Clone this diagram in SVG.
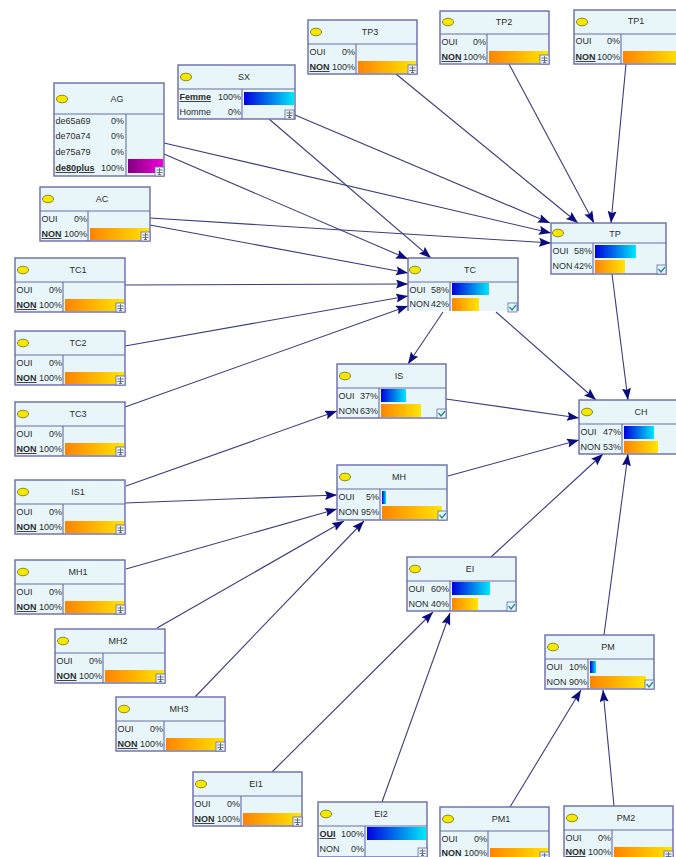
<svg xmlns="http://www.w3.org/2000/svg" width="676" height="857" viewBox="0 0 676 857">
<style>
text{font-family:"Liberation Sans",Arial,sans-serif;font-size:9px;fill:#2c2c2c}
.t{text-anchor:middle}
.r{text-anchor:end}
.b{font-weight:700;text-decoration:underline}
.box{fill:#e8f6f9;stroke:#6a6ca8;stroke-width:1.4}
.nb{fill:#e8f6f9}
.ln{stroke:#6a6ca8;stroke-width:1.1;fill:none}
.led{fill:#f5e800;stroke:#77700a;stroke-width:.8}
.ic{fill:#e8f6f9;stroke:#6a6ca8;stroke-width:.8}
.ck{fill:none;stroke:#1b8a98;stroke-width:1.3}
#edges line{stroke:#3c3c80;stroke-width:1.1;marker-end:url(#a)}
</style>
<defs>
<linearGradient id="bl"><stop offset="0" stop-color="#0000e0"/><stop offset="1" stop-color="#00e8f8"/></linearGradient>
<linearGradient id="or"><stop offset="0" stop-color="#ff8400"/><stop offset="1" stop-color="#ffe600"/></linearGradient>
<linearGradient id="pu"><stop offset="0" stop-color="#800080"/><stop offset="1" stop-color="#f000d8"/></linearGradient>
<marker id="a" markerUnits="userSpaceOnUse" markerWidth="13" markerHeight="10" refX="12" refY="4.5" orient="auto"><path d="M0 0L12 4.5L0 9L2 4.5Z" fill="#0b0b80"/></marker>
<g id="pl"><rect class="ic" width="9" height="9"/><path d="M4.5 1V8M1.5 3H7.5M1.5 5.5H7.5M3 7.5H6" stroke="#556" stroke-width=".8"/></g>
<g id="ch"><rect class="ic" width="9" height="9"/><path class="ck" d="M1.5 4L4 7L8 2"/></g>
<ellipse id="e" class="led" rx="5.6" ry="3.8"/>
</defs>
<g id="edges">
<line x1="295" y1="115" x2="550" y2="223"/>
<line x1="269" y1="119" x2="431" y2="258"/>
<line x1="164" y1="143" x2="551" y2="233"/>
<line x1="164" y1="154" x2="408" y2="259"/>
<line x1="150" y1="218" x2="551" y2="243"/>
<line x1="150" y1="225" x2="408" y2="273"/>
<line x1="125" y1="285" x2="408" y2="284"/>
<line x1="125" y1="346" x2="408" y2="296"/>
<line x1="125" y1="407" x2="408" y2="306"/>
<line x1="396" y1="74" x2="578" y2="223"/>
<line x1="509" y1="64" x2="594" y2="223"/>
<line x1="626" y1="64" x2="611" y2="223"/>
<line x1="443" y1="312" x2="408" y2="364"/>
<line x1="496" y1="312" x2="596" y2="400"/>
<line x1="612" y1="274" x2="628" y2="400"/>
<line x1="446" y1="399" x2="579" y2="418"/>
<line x1="448" y1="476" x2="579" y2="440"/>
<line x1="491" y1="557" x2="603" y2="454"/>
<line x1="604" y1="635" x2="628" y2="454"/>
<line x1="126" y1="486" x2="337" y2="411"/>
<line x1="125" y1="503" x2="337" y2="495"/>
<line x1="126" y1="569" x2="337" y2="509"/>
<line x1="157" y1="628" x2="344" y2="521"/>
<line x1="195" y1="697" x2="364" y2="521"/>
<line x1="272" y1="772" x2="433" y2="612"/>
<line x1="382" y1="802" x2="450" y2="613"/>
<line x1="510" y1="807" x2="581" y2="690"/>
<line x1="614" y1="806" x2="603" y2="690"/>
</g>
<g id="AG" transform="translate(54 83)"><rect class="box" width="110" height="93"/><path class="ln" d="M0 31H110M72 31V93"/><use href="#e" x="8" y="16"/><text class="t" x="63" y="19">AG</text><text x="1.5" y="41">de65a69</text><text class="r" x="70" y="41">0%</text><text x="1.5" y="56">de70a74</text><text class="r" x="70" y="56">0%</text><text x="1.5" y="72">de75a79</text><text class="r" x="70" y="72">0%</text><text class="b" x="1.5" y="88">de80plus</text><text class="r" x="70" y="88">100%</text><rect x="74" y="76" width="35" height="14" fill="url(#pu)"/><use href="#pl" x="101" y="84"/></g>
<g id="SX" transform="translate(178 65)"><rect class="box" width="117" height="54"/><path class="ln" d="M0 24H117M64 24V54"/><use href="#e" x="8" y="12"/><text class="t" x="66" y="15">SX</text><text class="b" x="1.5" y="35">Femme</text><text class="r" x="63" y="35">100%</text><text x="1.5" y="50">Homme</text><text class="r" x="63" y="50">0%</text><rect x="66" y="27" width="50" height="13" fill="url(#bl)"/><use href="#pl" x="107" y="45"/></g>
<g id="AC" transform="translate(40 187)"><rect class="box" width="110" height="54"/><path class="ln" d="M0 24H110M48 24V54"/><use href="#e" x="8" y="12"/><text class="t" x="62" y="15">AC</text><text x="1.5" y="35">OUI</text><text class="r" x="47" y="35">0%</text><text class="b" x="1.5" y="50">NON</text><text class="r" x="47" y="50">100%</text><rect x="50" y="41" width="59" height="12" fill="url(#or)"/><use href="#pl" x="101" y="45"/></g>
<g id="TP3" transform="translate(308 20)"><rect class="box" width="109" height="54"/><path class="ln" d="M0 24H109M48 24V54"/><use href="#e" x="8" y="12"/><text class="t" x="62" y="15">TP3</text><text x="1.5" y="35">OUI</text><text class="r" x="47" y="35">0%</text><text class="b" x="1.5" y="50">NON</text><text class="r" x="47" y="50">100%</text><rect x="50" y="41" width="58" height="12" fill="url(#or)"/><use href="#pl" x="100" y="45"/></g>
<g id="TP2" transform="translate(440 11)"><rect class="box" width="109" height="53"/><path class="ln" d="M0 23H109M47 23V53"/><use href="#e" x="8" y="11"/><text class="t" x="64" y="14">TP2</text><text x="1.5" y="34">OUI</text><text class="r" x="46" y="34">0%</text><text class="b" x="1.5" y="49">NON</text><text class="r" x="46" y="49">100%</text><rect x="49" y="40" width="59" height="12" fill="url(#or)"/><use href="#pl" x="100" y="44"/></g>
<g id="TP1" transform="translate(574 10)"><rect class="box" width="109" height="54"/><path class="ln" d="M0 24H109M47 24V54"/><use href="#e" x="8" y="12"/><text class="t" x="62" y="14">TP1</text><text x="1.5" y="34">OUI</text><text class="r" x="46" y="34">0%</text><text class="b" x="1.5" y="50">NON</text><text class="r" x="46" y="50">100%</text><rect x="49" y="41" width="59" height="12" fill="url(#or)"/></g>
<g id="TP" transform="translate(551 223)"><rect class="box" width="115" height="51"/><path class="ln" d="M0 20H115M42 20V51"/><use href="#e" x="7" y="10"/><text class="t" x="64" y="14">TP</text><text x="1.5" y="31">OUI</text><text class="r" x="41" y="31">58%</text><text x="1.5" y="46">NON</text><text class="r" x="41" y="46">42%</text><rect x="44" y="22" width="41" height="13" fill="url(#bl)"/><rect x="44" y="37" width="30" height="13" fill="url(#or)"/><use href="#ch" x="106" y="42"/></g>
<g id="TC" transform="translate(408 258)"><rect class="nb" width="110" height="53"/><path class="box" style="fill:none" d="M0 53V0H110V53"/><path class="ln" d="M0 24H110M42 24V53"/><use href="#e" x="7" y="12"/><text class="t" x="62" y="15">TC</text><text x="1.5" y="35">OUI</text><text class="r" x="41" y="35">58%</text><text x="1.5" y="49">NON</text><text class="r" x="41" y="49">42%</text><rect x="44" y="25" width="37" height="12" fill="url(#bl)"/><rect x="44" y="40" width="27" height="13" fill="url(#or)"/><use href="#ch" x="100" y="45"/></g>
<g id="TC1" transform="translate(15 258)"><rect class="box" width="110" height="54"/><path class="ln" d="M0 24H110M48 24V54"/><use href="#e" x="8" y="12"/><text class="t" x="63" y="15">TC1</text><text x="1.5" y="35">OUI</text><text class="r" x="47" y="35">0%</text><text class="b" x="1.5" y="50">NON</text><text class="r" x="47" y="50">100%</text><rect x="50" y="41" width="59" height="12" fill="url(#or)"/><use href="#pl" x="101" y="45"/></g>
<g id="TC2" transform="translate(15 331)"><rect class="box" width="110" height="54"/><path class="ln" d="M0 24H110M48 24V54"/><use href="#e" x="8" y="12"/><text class="t" x="63" y="15">TC2</text><text x="1.5" y="35">OUI</text><text class="r" x="47" y="35">0%</text><text class="b" x="1.5" y="50">NON</text><text class="r" x="47" y="50">100%</text><rect x="50" y="41" width="59" height="12" fill="url(#or)"/><use href="#pl" x="101" y="45"/></g>
<g id="TC3" transform="translate(15 402)"><rect class="box" width="110" height="54"/><path class="ln" d="M0 24H110M48 24V54"/><use href="#e" x="8" y="12"/><text class="t" x="63" y="15">TC3</text><text x="1.5" y="35">OUI</text><text class="r" x="47" y="35">0%</text><text class="b" x="1.5" y="50">NON</text><text class="r" x="47" y="50">100%</text><rect x="50" y="41" width="59" height="12" fill="url(#or)"/><use href="#pl" x="101" y="45"/></g>
<g id="IS1" transform="translate(15 480)"><rect class="box" width="110" height="54"/><path class="ln" d="M0 24H110M48 24V54"/><use href="#e" x="8" y="12"/><text class="t" x="63" y="15">IS1</text><text x="1.5" y="35">OUI</text><text class="r" x="47" y="35">0%</text><text class="b" x="1.5" y="50">NON</text><text class="r" x="47" y="50">100%</text><rect x="50" y="41" width="59" height="12" fill="url(#or)"/><use href="#pl" x="101" y="45"/></g>
<g id="MH1" transform="translate(15 560)"><rect class="box" width="110" height="54"/><path class="ln" d="M0 24H110M48 24V54"/><use href="#e" x="8" y="12"/><text class="t" x="63" y="15">MH1</text><text x="1.5" y="35">OUI</text><text class="r" x="47" y="35">0%</text><text class="b" x="1.5" y="50">NON</text><text class="r" x="47" y="50">100%</text><rect x="50" y="41" width="59" height="12" fill="url(#or)"/><use href="#pl" x="101" y="45"/></g>
<g id="MH2" transform="translate(55 629)"><rect class="box" width="110" height="54"/><path class="ln" d="M0 24H110M48 24V54"/><use href="#e" x="8" y="12"/><text class="t" x="63" y="15">MH2</text><text x="1.5" y="35">OUI</text><text class="r" x="47" y="35">0%</text><text class="b" x="1.5" y="50">NON</text><text class="r" x="47" y="50">100%</text><rect x="50" y="41" width="59" height="12" fill="url(#or)"/><use href="#pl" x="101" y="45"/></g>
<g id="MH3" transform="translate(116 697)"><rect class="box" width="109" height="54"/><path class="ln" d="M0 24H109M48 24V54"/><use href="#e" x="8" y="12"/><text class="t" x="63" y="15">MH3</text><text x="1.5" y="35">OUI</text><text class="r" x="47" y="35">0%</text><text class="b" x="1.5" y="50">NON</text><text class="r" x="47" y="50">100%</text><rect x="50" y="41" width="58" height="12" fill="url(#or)"/><use href="#pl" x="100" y="45"/></g>
<g id="EI1" transform="translate(193 772)"><rect class="box" width="109" height="54"/><path class="ln" d="M0 24H109M48 24V54"/><use href="#e" x="8" y="12"/><text class="t" x="63" y="15">EI1</text><text x="1.5" y="35">OUI</text><text class="r" x="47" y="35">0%</text><text class="b" x="1.5" y="50">NON</text><text class="r" x="47" y="50">100%</text><rect x="50" y="41" width="58" height="12" fill="url(#or)"/><use href="#pl" x="100" y="45"/></g>
<g id="EI2" transform="translate(318 802)"><rect class="box" width="109" height="55"/><path class="ln" d="M0 24H109M47 24V55"/><use href="#e" x="8" y="12"/><text class="t" x="63" y="15">EI2</text><text class="b" x="1.5" y="35">OUI</text><text class="r" x="46" y="35">100%</text><text x="1.5" y="50">NON</text><text class="r" x="46" y="50">0%</text><rect x="49" y="25" width="59" height="13" fill="url(#bl)"/><use href="#pl" x="100" y="46"/></g>
<g id="PM1" transform="translate(440 807)"><rect class="box" width="109" height="54"/><path class="ln" d="M0 24H109M48 24V54"/><use href="#e" x="8" y="12"/><text class="t" x="61" y="15">PM1</text><text x="1.5" y="35">OUI</text><text class="r" x="47" y="35">0%</text><text class="b" x="1.5" y="49">NON</text><text class="r" x="47" y="49">100%</text><rect x="50" y="41" width="58" height="12" fill="url(#or)"/><use href="#pl" x="100" y="45"/></g>
<g id="PM2" transform="translate(564 806)"><rect class="box" width="109" height="54"/><path class="ln" d="M0 24H109M48 24V54"/><use href="#e" x="8" y="12"/><text class="t" x="62" y="15">PM2</text><text x="1.5" y="35">OUI</text><text class="r" x="47" y="35">0%</text><text class="b" x="1.5" y="49">NON</text><text class="r" x="47" y="49">100%</text><rect x="50" y="41" width="58" height="12" fill="url(#or)"/><use href="#pl" x="100" y="45"/></g>
<g id="IS" transform="translate(337 364)"><rect class="box" width="109" height="54"/><path class="ln" d="M0 24H109M42 24V54"/><use href="#e" x="8" y="12"/><text class="t" x="62" y="15">IS</text><text x="1.5" y="35">OUI</text><text class="r" x="41" y="35">37%</text><text x="1.5" y="50">NON</text><text class="r" x="41" y="50">63%</text><rect x="44" y="25" width="25" height="13" fill="url(#bl)"/><rect x="44" y="40" width="40" height="13" fill="url(#or)"/><use href="#ch" x="100" y="45"/></g>
<g id="MH" transform="translate(337 465)"><rect class="box" width="110" height="55"/><path class="ln" d="M0 24H110M43 24V55"/><use href="#e" x="8" y="12"/><text class="t" x="62" y="15">MH</text><text x="1.5" y="35">OUI</text><text class="r" x="42" y="35">5%</text><text x="1.5" y="50">NON</text><text class="r" x="42" y="50">95%</text><rect x="45" y="26" width="4" height="13" fill="url(#bl)"/><rect x="45" y="41" width="60" height="13" fill="url(#or)"/><use href="#ch" x="101" y="46"/></g>
<g id="EI" transform="translate(407 557)"><rect class="box" width="109" height="54"/><path class="ln" d="M0 24H109M43 24V54"/><use href="#e" x="8" y="12"/><text class="t" x="63" y="15">EI</text><text x="1.5" y="35">OUI</text><text class="r" x="42" y="35">60%</text><text x="1.5" y="50">NON</text><text class="r" x="42" y="50">40%</text><rect x="45" y="25" width="38" height="13" fill="url(#bl)"/><rect x="45" y="41" width="26" height="12" fill="url(#or)"/><use href="#ch" x="100" y="45"/></g>
<g id="PM" transform="translate(545 635)"><rect class="box" width="109" height="54"/><path class="ln" d="M0 24H109M43 24V54"/><use href="#e" x="8" y="12"/><text class="t" x="63" y="15">PM</text><text x="1.5" y="35">OUI</text><text class="r" x="42" y="35">10%</text><text x="1.5" y="50">NON</text><text class="r" x="42" y="50">90%</text><rect x="45" y="26" width="6" height="12" fill="url(#bl)"/><rect x="45" y="41" width="56" height="12" fill="url(#or)"/><use href="#ch" x="100" y="45"/></g>
<g id="CH" transform="translate(579 400)"><rect class="box" width="109" height="54"/><path class="ln" d="M0 24H109M43 24V54"/><use href="#e" x="8" y="12"/><text class="t" x="62" y="15">CH</text><text x="1.5" y="35">OUI</text><text class="r" x="42" y="35">47%</text><text x="1.5" y="50">NON</text><text class="r" x="42" y="50">53%</text><rect x="45" y="26" width="30" height="13" fill="url(#bl)"/><rect x="45" y="41" width="34" height="12" fill="url(#or)"/></g>
</svg>
